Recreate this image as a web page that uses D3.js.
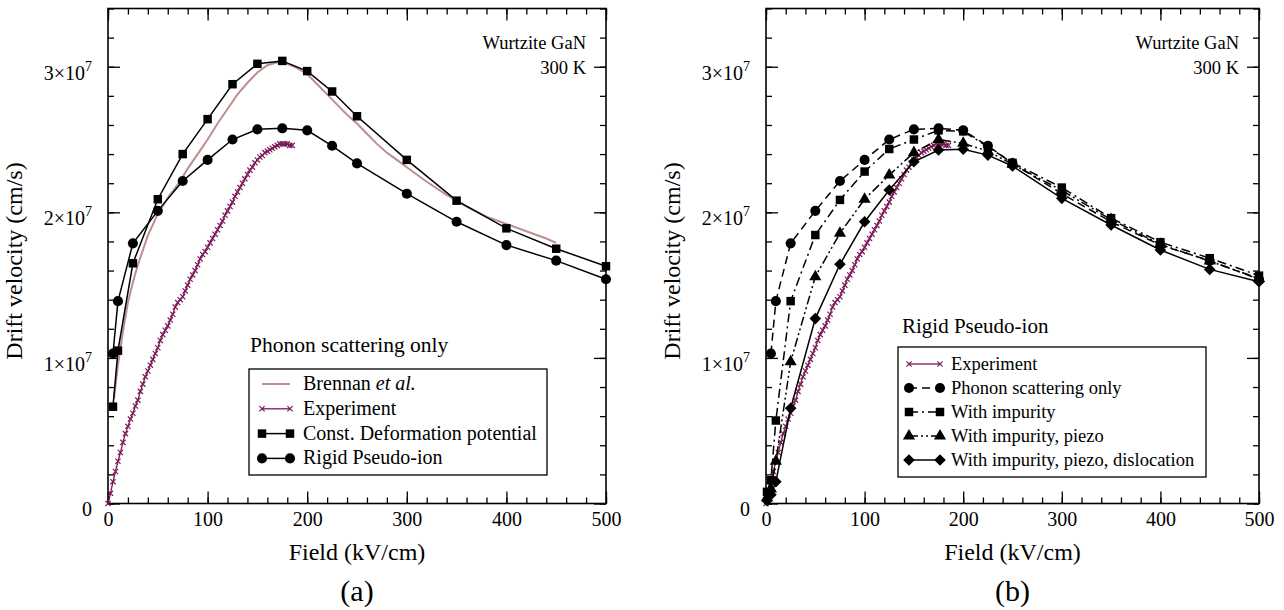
<!DOCTYPE html>
<html>
<head>
<meta charset="utf-8">
<script src="https://cdn.jsdelivr.net/npm/d3@7"></script>
<style>
  body { margin: 0; background: #fff; }
  svg text { font-family: "Liberation Serif", "Times New Roman", Tinos, "DejaVu Serif", "Noto Serif", serif; fill: #000; }
</style>
</head>
<body>
<svg id="drawing" width="1284" height="610"></svg>
<script>
// drift velocity values are in units of 1e7 cm/s
const fieldA = [5, 10, 25, 50, 75, 100, 125, 150, 175, 200, 225, 250, 300, 350, 400, 450, 500];
const constDefPot = [0.665, 1.05, 1.65, 2.09, 2.40, 2.64, 2.88, 3.02, 3.04, 2.97, 2.83, 2.66, 2.36, 2.08, 1.89, 1.75, 1.63];
const rigidPseudoIon = [1.03, 1.39, 1.787, 2.01, 2.215, 2.36, 2.50, 2.57, 2.577, 2.563, 2.457, 2.336, 2.128, 1.935, 1.775, 1.668, 1.54];

const brennanField = [6, 10, 15, 20, 25, 30, 40, 50, 60, 70, 80, 90, 100, 110, 120, 130, 140, 150, 160, 170, 180, 190, 200,
  210, 220, 230, 240, 250, 260, 270, 280, 290, 300, 320, 340, 360, 380, 400, 420, 440, 450];
const brennanVel = [0.72, 0.95, 1.18, 1.38, 1.52, 1.64, 1.84, 1.99, 2.10, 2.19, 2.30, 2.40, 2.50, 2.61, 2.71, 2.81, 2.89, 2.96, 3.01, 3.03, 3.02, 2.99, 2.95,
  2.88, 2.81, 2.74, 2.67, 2.61, 2.54, 2.47, 2.41, 2.36, 2.31, 2.21, 2.12, 2.04, 1.97, 1.92, 1.87, 1.82, 1.79];

const expField = [0, 2.5, 5, 7.5, 10, 12.5, 15, 17.5, 20, 22.5, 25, 27.5, 30, 32.5, 35, 37.5, 40, 42.5, 45, 47.5,
  50, 52.5, 55, 57.5, 60, 62.5, 65, 67.5, 70, 72.5, 75, 77.5, 80, 82.5, 85, 87.5, 90, 92.5, 95, 97.5,
  100, 102.5, 105, 107.5, 110, 112.5, 115, 117.5, 120, 122.5, 125, 127.5, 130, 132.5, 135, 137.5, 140, 142.5, 145, 147.5,
  150, 152.5, 155, 157.5, 160, 162.5, 165, 167.5, 170, 172.5, 175, 177.5, 180, 182.5, 185];
const expVel = [0.00, 0.07, 0.15, 0.22, 0.29, 0.35, 0.42, 0.48, 0.53, 0.58, 0.62, 0.67, 0.71, 0.77, 0.82, 0.87, 0.91, 0.95, 0.99, 1.03,
  1.07, 1.12, 1.16, 1.19, 1.22, 1.26, 1.30, 1.35, 1.38, 1.40, 1.42, 1.46, 1.50, 1.54, 1.57, 1.60, 1.64, 1.68, 1.71, 1.73,
  1.76, 1.79, 1.82, 1.85, 1.88, 1.91, 1.94, 1.98, 2.01, 2.04, 2.07, 2.11, 2.14, 2.17, 2.20, 2.23, 2.26, 2.29, 2.31, 2.34,
  2.36, 2.38, 2.39, 2.41, 2.42, 2.43, 2.44, 2.45, 2.46, 2.47, 2.47, 2.47, 2.47, 2.46, 2.46];

const fieldB = [1, 5, 10, 25, 50, 75, 100, 125, 150, 175, 200, 225, 250, 300, 350, 400, 450, 500];
const withImpurity = [0.08, 0.16, 0.57, 1.39, 1.844, 2.085, 2.28, 2.435, 2.50, 2.563, 2.556, 2.45, 2.34, 2.17, 1.96, 1.795, 1.685, 1.565];
const withPiezo = [0.04, 0.10, 0.29, 0.974, 1.558, 1.856, 2.09, 2.256, 2.41, 2.50, 2.474, 2.42, 2.33, 2.15, 1.95, 1.78, 1.665, 1.545];
const withDislocation = [0.02, 0.06, 0.15, 0.654, 1.27, 1.643, 1.935, 2.153, 2.347, 2.428, 2.433, 2.393, 2.318, 2.096, 1.913, 1.741, 1.608, 1.523];

const xTicks = [0, 100, 200, 300, 400, 500];
const yTicks = [0, 1, 2, 3];

const brennanColor = "#bc8f8f";
const expColor = "#7a1856";
const serif = '"Liberation Serif", "Times New Roman", Tinos, "DejaVu Serif", "Noto Serif", serif';

const svg = d3.select("svg#drawing");

const marks = {
  square: d3.symbol(d3.symbolSquare, 72)(),
  circle: d3.symbol(d3.symbolCircle, 80)(),
  triangle: d3.symbol(d3.symbolTriangle, 64)(),
  diamond: "M0,-5.8L5.8,0L0,5.8L-5.8,0Z",
  cross: "M-2.6,-2.6L2.6,2.6M-2.6,2.6L2.6,-2.6"
};

function drawPanel(opt) {
  const { left, right, top, bottom, caption } = opt;
  const g = svg.append("g").attr("font-family", serif);
  const x = d3.scaleLinear([0, 500], [left, right]);
  const y = d3.scaleLinear([0, 3.4], [bottom, top]);

  // minor ticks on all four sides
  const minorX = d3.range(0, 501, 20), minorY = d3.range(0, 3.41, 0.2);
  g.append("g").attr("transform", `translate(0,${bottom})`)
    .call(d3.axisBottom(x).tickValues(minorX).tickSize(-6).tickFormat(""));
  g.append("g").attr("transform", `translate(0,${top})`)
    .call(d3.axisTop(x).tickValues(minorX).tickSize(-6).tickFormat(""));
  g.append("g").attr("transform", `translate(${left},0)`)
    .call(d3.axisLeft(y).tickValues(minorY).tickSize(-6).tickFormat(""));
  g.append("g").attr("transform", `translate(${right},0)`)
    .call(d3.axisRight(y).tickValues(minorY).tickSize(-6).tickFormat(""));

  // major ticks
  const xb = g.append("g").attr("transform", `translate(0,${bottom})`)
    .call(d3.axisBottom(x).tickValues(xTicks).tickSize(-12).tickPadding(8));
  g.append("g").attr("transform", `translate(0,${top})`)
    .call(d3.axisTop(x).tickValues(xTicks).tickSize(-12).tickFormat(""));
  const yl = g.append("g").attr("transform", `translate(${left},0)`)
    .call(d3.axisLeft(y).tickValues(yTicks).tickSize(-12).tickPadding(16));
  g.append("g").attr("transform", `translate(${right},0)`)
    .call(d3.axisRight(y).tickValues(yTicks).tickSize(-12).tickFormat(""));

  g.selectAll(".domain").remove();
  g.selectAll("g[font-family]").attr("font-family", serif);
  g.selectAll(".tick line").attr("stroke", "#000").attr("stroke-width", 1.3);
  xb.selectAll("text").attr("font-size", 20);
  yl.selectAll(".tick text").each(function (d) {
    const t = d3.select(this).text(null).attr("font-size", 20).attr("dy", "0.62em");
    if (d === 0) { t.text("0"); return; }
    t.append("tspan").text(d + "×10");
    t.append("tspan").attr("dy", -9).attr("font-size", 14).text("7");
  });

  g.append("rect")
    .attr("x", left).attr("y", top)
    .attr("width", right - left).attr("height", bottom - top)
    .attr("fill", "none").attr("stroke", "#000").attr("stroke-width", 1.6);

  const line = d3.line().x(d => x(d[0])).y(d => y(d[1]));

  opt.series.forEach(s => {
    const pts = s.xs.map((v, i) => [v, s.ys[i]]);
    g.append("path").datum(pts)
      .attr("d", line)
      .attr("fill", "none")
      .attr("stroke", s.color)
      .attr("stroke-width", s.width || 1.5)
      .attr("stroke-dasharray", s.dash || null);
    if (s.mark) {
      g.selectAll(null).data(pts).join("path")
        .attr("transform", d => `translate(${x(d[0])},${y(d[1])})`)
        .attr("d", marks[s.mark])
        .attr("fill", s.mark === "cross" ? "none" : s.color)
        .attr("stroke", s.mark === "cross" ? s.color : "none")
        .attr("stroke-width", 1.2);
    }
  });

  // corner note
  g.append("text").attr("x", right - 20).attr("y", top + 40)
    .attr("text-anchor", "end").attr("font-size", 18.5).text("Wurtzite GaN");
  g.append("text").attr("x", right - 20).attr("y", top + 65)
    .attr("text-anchor", "end").attr("font-size", 18.5).text("300 K");

  // axis titles
  const cx = (left + right) / 2;
  g.append("text").attr("x", cx).attr("y", 560)
    .attr("text-anchor", "middle").attr("font-size", 24).text("Field (kV/cm)");
  g.append("text").attr("x", cx).attr("y", 601)
    .attr("text-anchor", "middle").attr("font-size", 30).text(caption);
  g.append("text")
    .attr("transform", `translate(${left - 86},${(top + bottom) / 2 + 5}) rotate(-90)`)
    .attr("text-anchor", "middle").attr("font-size", 24).text("Drift velocity (cm/s)");

  // legend
  const L = opt.legend;
  g.append("text").attr("x", L.titleX).attr("y", L.titleY).attr("font-size", L.titleSize).text(L.title);
  g.append("rect")
    .attr("x", L.box[0]).attr("y", L.box[1]).attr("width", L.box[2]).attr("height", L.box[3])
    .attr("fill", "#fff").attr("stroke", "#000").attr("stroke-width", 1.3);
  L.items.forEach((it, i) => {
    const ly = L.firstY + i * L.step;
    const s = opt.series[it.series];
    g.append("line")
      .attr("x1", L.x1).attr("x2", L.x2).attr("y1", ly).attr("y2", ly)
      .attr("stroke", s.color).attr("stroke-width", s.width || 1.5)
      .attr("stroke-dasharray", s.dash || null);
    if (s.mark) {
      [L.x1, L.x2].forEach(mx => {
        g.append("path").attr("transform", `translate(${mx},${ly})`)
          .attr("d", marks[s.mark])
          .attr("fill", s.mark === "cross" ? "none" : s.color)
          .attr("stroke", s.mark === "cross" ? s.color : "none")
          .attr("stroke-width", 1.2);
      });
    }
    const t = g.append("text").attr("x", L.textX).attr("y", ly + 6).attr("font-size", L.size);
    it.label.forEach(p => t.append("tspan").attr("font-style", p.italic ? "italic" : null).text(p.text));
  });
}

drawPanel({
  left: 108, right: 606, top: 8.5, bottom: 503.5, caption: "(a)",
  series: [
    { xs: brennanField, ys: brennanVel, color: brennanColor, width: 2 },
    { xs: expField, ys: expVel, color: expColor, width: 1.3, mark: "cross" },
    { xs: fieldA, ys: constDefPot, color: "#000", mark: "square" },
    { xs: fieldA, ys: rigidPseudoIon, color: "#000", mark: "circle" }
  ],
  legend: {
    title: "Phonon scattering only", titleX: 250, titleY: 352, titleSize: 21.5,
    box: [249, 369, 298, 106], x1: 262, x2: 290, textX: 303, firstY: 384, step: 24.8, size: 20,
    items: [
      { series: 0, label: [{ text: "Brennan " }, { text: "et al.", italic: true }] },
      { series: 1, label: [{ text: "Experiment" }] },
      { series: 2, label: [{ text: "Const. Deformation potential" }] },
      { series: 3, label: [{ text: "Rigid Pseudo-ion" }] }
    ]
  }
});

drawPanel({
  left: 766, right: 1259, top: 8.5, bottom: 503.5, caption: "(b)",
  series: [
    { xs: expField, ys: expVel, color: expColor, width: 1.3, mark: "cross" },
    { xs: fieldA, ys: rigidPseudoIon, color: "#000", mark: "circle", dash: "8,5" },
    { xs: fieldB, ys: withImpurity, color: "#000", mark: "square", dash: "9,4,2,4" },
    { xs: fieldB, ys: withPiezo, color: "#000", mark: "triangle", dash: "9,3,2,3,2,3" },
    { xs: fieldB, ys: withDislocation, color: "#000", mark: "diamond" }
  ],
  legend: {
    title: "Rigid Pseudo-ion", titleX: 902, titleY: 333, titleSize: 21,
    box: [898, 347, 308, 130], x1: 909, x2: 940, textX: 951, firstY: 364, step: 24, size: 18.5,
    items: [
      { series: 0, label: [{ text: "Experiment" }] },
      { series: 1, label: [{ text: "Phonon scattering only" }] },
      { series: 2, label: [{ text: "With impurity" }] },
      { series: 3, label: [{ text: "With impurity, piezo" }] },
      { series: 4, label: [{ text: "With impurity, piezo, dislocation" }] }
    ]
  }
});
</script>
</body>
</html>
